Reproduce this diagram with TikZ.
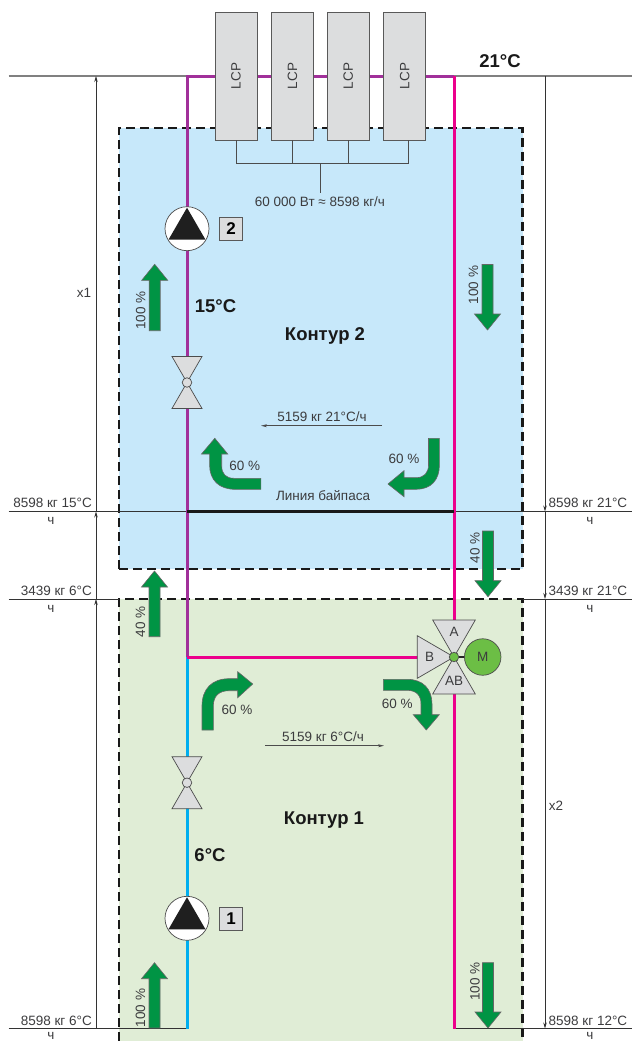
\documentclass[tikz,border=0pt]{standalone}
\usepackage{fontspec}
\setmainfont{Liberation Sans}
\usepackage{tikz}
\usetikzlibrary{calc,arrows.meta}
\definecolor{loopblue}{HTML}{C7E8FA}
\definecolor{loopgreen}{HTML}{E0EDD6}
\definecolor{pipepink}{HTML}{EC008C}
\definecolor{pipepurple}{HTML}{A1309A}
\definecolor{pipecyan}{HTML}{00AEEF}
\definecolor{flowgreen}{HTML}{009444}
\definecolor{motorgreen}{HTML}{6CBE45}
\definecolor{partgrey}{HTML}{DCDDDE}
\definecolor{inkgrey}{HTML}{3C3C3E}
\tikzset{
  lbl/.style={inner sep=0, text=inkgrey, font=\fontsize{13.5}{15}\selectfont},
  big/.style={inner sep=0, text=black!90, font=\fontsize{18.5}{20}\selectfont\bfseries},
  lcpbox/.style={draw=black!65, line width=.8pt, fill=partgrey, minimum width=42pt, minimum height=128pt, inner sep=0, text=inkgrey, font=\fontsize{13.5}{15}\selectfont},
  badge/.style={draw=black!65, line width=.8pt, fill=partgrey, minimum width=23pt, minimum height=23pt, inner sep=0, font=\fontsize{17}{19}\selectfont\bfseries},
  pumpnode/.style={circle, draw=black!70, line width=.7pt, fill=white, minimum size=44pt, inner sep=0},
  hub/.style={circle, draw=black!70, line width=.7pt, fill=partgrey, minimum size=9.5pt, inner sep=0},
  wedge/.style={draw=black!70, line width=.7pt, fill=partgrey},
  flow/.style={draw=black!60, line width=.6pt, fill=flowgreen},
  loopedge/.style={draw=black!90, line width=2.3pt, dash pattern=on 9pt off 5pt},
  pipe/.style={line width=3pt},
  level/.style={black!80, line width=.8pt},
  dim/.style={black!80, line width=.7pt, -{Stealth[length=6pt,width=3.5pt]}},
  note/.style={black!70, line width=.7pt, -{Stealth[length=6pt,width=3pt]}}
}
\begin{document}
\begin{tikzpicture}[x=1pt,y=-1pt]
\useasboundingbox (0,0) rectangle (632,1041);

% loops
\fill[loopblue] (119,128) rectangle (522.5,569);
\fill[loopgreen] (119,599) rectangle (522.5,1041);
\draw[loopedge] (119,569) -- (119,128) -- (522.5,128) -- (522.5,569) -- cycle;
\draw[loopedge] (119,1041) -- (119,599) -- (522.5,599) -- (522.5,1041);

% levels
\coordinate (topL) at (8.5,76);
\coordinate (topR) at (632,76);
\coordinate (byL) at (8.5,511.5);
\coordinate (byR) at (632,511.5);
\coordinate (midL) at (8.5,599);
\coordinate (midLb) at (119,599);
\coordinate (midRb) at (522.5,599);
\coordinate (midR) at (632,599);
\coordinate (lowL) at (8.5,1028.5);
\coordinate (lowR) at (632,1028.5);
\draw[black!50, line width=1.2pt] (topL) -- (topR);
\draw[level] (byL) -- (byR);
\draw[level] (midL) -- (midLb);
\draw[level] (midRb) -- (midR);
\draw[level] (lowL) -- (187,1028.5);
\draw[level] (454,1028.5) -- (lowR);

% dimensions
\coordinate (dl1) at (96,76);
\coordinate (dl2) at (96,511.5);
\coordinate (dl3) at (96,599);
\coordinate (dl4) at (96,1028.5);
\coordinate (dr1) at (545,76);
\coordinate (dr2) at (545,511.5);
\coordinate (dr3) at (545,599);
\coordinate (dr4) at (545,1028.5);
\draw[dim] (dl4) -- (dl3);
\draw[dim] (dl3) -- (dl2);
\draw[dim] (dl2) -- (dl1);
\draw[dim] (dr1) -- (dr2);
\draw[dim] (dr2) -- (dr3);
\draw[dim] (dr3) -- (dr4);

% pipes
\coordinate (pipeTL) at (187,76);
\coordinate (pipeTR) at (454,76);
\coordinate (pipeJL) at (187,657);
\coordinate (pipeBL) at (187,1028.5);
\coordinate (pipeBR) at (454,1028.5);
\coordinate (byJL) at (187,511.5);
\coordinate (byJR) at (454,511.5);
\draw[pipe, pipepurple] (pipeJL) -- (pipeTL) -- (pipeTR);
\draw[pipe, pipecyan] (pipeJL) -- (pipeBL);
\draw[pipe, pipepink] (pipeTR) -- (pipeBR);
\draw[pipe, pipepink] (pipeJL) -- (430,657);
\draw[black!90, line width=2.2pt] (byJL) -- (byJR);

% cooling units
\foreach \i/\x in {1/236,2/292.4,3/348.3,4/404.7}
  {\node[lcpbox] (lcp\i) at (\x,76) {\rotatebox{90}{LCP}};}
\coordinate (busL) at (236,163.5);
\coordinate (busR) at (408,163.5);
\coordinate (busM) at (320.5,163.5);
\coordinate (busEnd) at (320.5,192.5);
\draw[black!70, line width=.7pt] (busL) -- (busR);
\foreach \i in {1,2,3} {\draw[black!70, line width=.7pt] (lcp\i.south) -- (lcp\i.south |- busL);}
\draw[black!70, line width=.7pt] (busR) -- (busR |- lcp4.south);
\draw[black!70, line width=.7pt] (busM) -- (busEnd);

% pumps
\foreach \n/\y in {pumptwo/228.7, pumpone/918.3} {
  \node[pumpnode] (\n) at (187,\y) {};
  \fill[black!88] (187,\y-21) -- (205.5,\y+11) -- (168.5,\y+11) -- cycle;
}
\node[badge] (badgetwo) at (231,229) {2};
\node[badge] (badgeone) at (231,918.5) {1};

% two way valves
\foreach \n/\y in {valvetwo/382.5, valveone/782.7} {
  \draw[wedge] (172,\y-26) -- (202,\y-26) -- (187,\y) -- cycle;
  \draw[wedge] (172,\y+26) -- (202,\y+26) -- (187,\y) -- cycle;
  \node[hub] (\n) at (187,\y) {};
}

% three way valve
\draw[wedge] (432.7,620) -- (475.3,620) -- (454,657) -- cycle;
\draw[wedge] (432.7,694) -- (475.3,694) -- (454,657) -- cycle;
\draw[wedge] (417.3,635.7) -- (417.3,678.3) -- (454,657) -- cycle;
\node[circle, draw=black!70, line width=.7pt, fill=motorgreen, minimum size=36.5pt, inner sep=0, text=inkgrey, font=\fontsize{13.5}{15}\selectfont] (motor) at (482.7,657) {M};
\node[hub, fill=motorgreen] (hubthree) at (454,657) {};
\draw[black!85, line width=1.6pt] (hubthree) -- (motor);
\node[lbl] (portA) at (454,632) {A};
\node[lbl] (portAB) at (454,680.5) {AB};
\node[lbl] (portB) at (429.5,657) {B};

% flow arrows
\foreach \x/\a/\b/\d in {154.7/330.7/264.3/1, 487.5/264.5/330/-1, 488/531/596.7/-1, 154.5/636.7/571/1, 154.5/1028/962.7/1, 488/962.7/1028/-1}
  {\draw[flow] (\x-5.5,\a) -- (\x-5.5,\b+16*\d) -- (\x-13,\b+16*\d) -- (\x,\b) -- (\x+13,\b+16*\d) -- (\x+5.5,\b+16*\d) -- (\x+5.5,\a) -- cycle;}
\draw[flow] (260.8,489.3) -- (235,489.3) .. controls (219,489.3) and (209.6,480) .. (209.6,465) -- (209.6,454) -- (201.5,454) -- (214.8,438.3) -- (227.7,454) -- (221.7,454) -- (221.7,466) .. controls (221.7,474) and (226,478.3) .. (234,478.3) -- (260.8,478.3) -- cycle;
\draw[flow] (428.5,438.3) -- (428.5,465) .. controls (428.5,473) and (424,477.7) .. (416,477.7) -- (404,477.7) -- (404,470.7) -- (388,484) -- (404,496.7) -- (404,489.3) -- (416,489.3) .. controls (431,489.3) and (439.4,480) .. (439.4,465) -- (439.4,438.3) -- cycle;
\draw[flow] (202,730) -- (202,706) .. controls (202,689) and (212,678.7) .. (229,678.7) -- (237.7,678.7) -- (237.7,671.7) -- (252.7,684) -- (237.7,697.7) -- (237.7,690.7) -- (229,690.7) .. controls (219,690.7) and (213.3,696) .. (213.3,706) -- (213.3,730) -- cycle;
\draw[flow] (383.3,679.3) -- (407,679.3) .. controls (423,679.3) and (432,689) .. (432,704) -- (432,714.7) -- (439.3,714.7) -- (426.3,730) -- (413.3,714.7) -- (421,714.7) -- (421,704) .. controls (421,695) and (416,690.3) .. (407,690.3) -- (383.3,690.3) -- cycle;

% flow labels
\foreach \n/\x/\y/\t in {pa/140.7/310.7/100 \%, pb/473.5/285/100 \%, pc/475/547.7/40 \%, pd/140.5/621.7/40 \%, pe/140.5/1008/100 \%, pf/475/981.7/100 \%}
  {\node[lbl, rotate=90] (\n) at (\x,\y) {\t};}
\foreach \n/\x/\y in {qa/244.7/465.7, qb/404/459, qc/397.3/703.7, qd/237/710}
  {\node[lbl] (\n) at (\x,\y) {60 \%};}

% notes
\node[lbl] (power) at (320,201.7) {60 000 Вт ≈ 8598 кг/ч};
\node[lbl] (bypasstext) at (323,495.7) {Линия байпаса};
\node[lbl] (flowtop) at (322,417) {5159 кг 21°C/ч};
\coordinate (ftA) at (382,425.7);
\coordinate (ftB) at (261,425.7);
\draw[note] (ftA) -- (ftB);
\node[lbl] (flowlow) at (323,737) {5159 кг 6°C/ч};
\coordinate (flA) at (265,745.7);
\coordinate (flB) at (384,745.7);
\draw[note] (flA) -- (flB);
\node[lbl] (xone) at (84,293) {x1};
\node[lbl] (xtwo) at (556,806) {x2};

% temperatures
\node[big] (ttop) at (500,61.5) {21°C};
\node[big] (tfifteen) at (215.5,306) {15°C};
\node[big] (tsix) at (210,855) {6°C};
\node[big] (loopb) at (325,336) {Контур 2};
\node[big] (loopa) at (324,820) {Контур 1};

% level labels
\foreach \n/\y/\t in {la/503/8598 кг 15°C, lb/591/3439 кг 6°C, lc/1020.7/8598 кг 6°C}
  {\node[lbl, anchor=east] (\n) at (92,\y) {\t};}
\foreach \n/\y/\t in {ra/503/8598 кг 21°C, rb/591/3439 кг 21°C, rc/1020.7/8598 кг 12°C}
  {\node[lbl, anchor=west] (\n) at (548.5,\y) {\t};}
\foreach \n/\y in {ua/520.7, ub/609, uc/1035.5}
  {\node[lbl] (\n l) at (51,\y) {ч}; \node[lbl] (\n r) at (590,\y) {ч};}
\end{tikzpicture}
\end{document}
